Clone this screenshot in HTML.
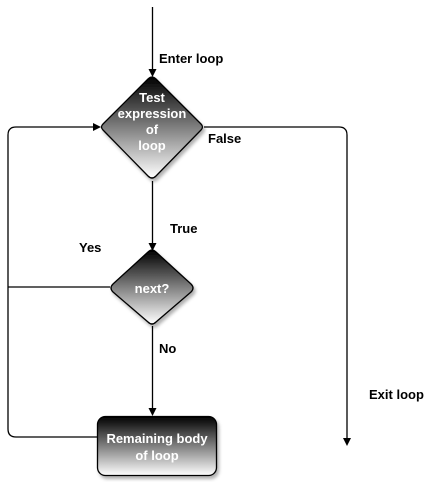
<!DOCTYPE html>
<html><head><meta charset="utf-8"><style>
html,body{margin:0;padding:0;background:#fff;width:438px;height:482px;overflow:hidden}
</style></head><body>
<svg width="438" height="482" xmlns="http://www.w3.org/2000/svg" font-family="Liberation Sans, sans-serif">
<defs>
<linearGradient id="g" x1="0" y1="0" x2="0" y2="1">
<stop offset="0" stop-color="#000"/><stop offset="1" stop-color="#fff"/>
</linearGradient>
<filter id="s" x="-20%" y="-20%" width="150%" height="150%"><feDropShadow dx="2" dy="3" stdDeviation="1.5" flood-color="#000" flood-opacity="0.3"/></filter>
</defs>
<g stroke="#000" stroke-width="1.3" fill="none">
<line x1="152.5" y1="7" x2="152.5" y2="70"/>
<line x1="152.5" y1="181" x2="152.5" y2="244"/>
<line x1="152.5" y1="326" x2="152.5" y2="410"/>
<path d="M204 127 H339 Q347 127 347 135 V439"/>
<path d="M98 437 H16 Q8 437 8 429 V135 Q8 127 16 127 H94"/>
<line x1="8" y1="287" x2="110" y2="287"/>
</g>
<g fill="#000">
<path d="M148.5 69 L156.5 69 L152.5 77 Z"/>
<path d="M148.5 243 L156.5 243 L152.5 251 Z"/>
<path d="M148.5 408 L156.5 408 L152.5 416 Z"/>
<path d="M343 438 L351 438 L347 446 Z"/>
<path d="M93 123 L93 131 L101 127 Z"/>
</g>
<g stroke="#000" stroke-width="1.3" fill="url(#g)" filter="url(#s)">
<path d="M152 77 Q154 77 156 79 L201 124 Q204 127 201 130 L156 176 Q152 180 148 176 L103 130 Q100 127 103 124 L148 79 Q150 77 152 77 Z"/>
<path d="M152 250 Q154 250 156 252 L191 284 Q195 288 191 292 L156 322 Q152 326 148 322 L113 292 Q109 288 113 284 L148 252 Q150 250 152 250 Z"/>
<rect x="97.5" y="416.5" width="119" height="59" rx="8"/>
</g>
<g fill="#fff" font-weight="bold" font-size="13" text-anchor="middle">
<text x="152" y="102">Test</text>
<text x="152" y="118">expression</text>
<text x="152" y="134">of</text>
<text x="152" y="150">loop</text>
<text x="152" y="293">next?</text>
<text x="157" y="443">Remaining body</text>
<text x="157" y="460">of loop</text>
</g>
<g fill="#000" font-weight="bold" font-size="13">
<text x="159" y="63">Enter loop</text>
<text x="208" y="143">False</text>
<text x="170" y="233">True</text>
<text x="79" y="252">Yes</text>
<text x="159" y="353">No</text>
<text x="369" y="399">Exit loop</text>
</g>
</svg>
</body></html>
